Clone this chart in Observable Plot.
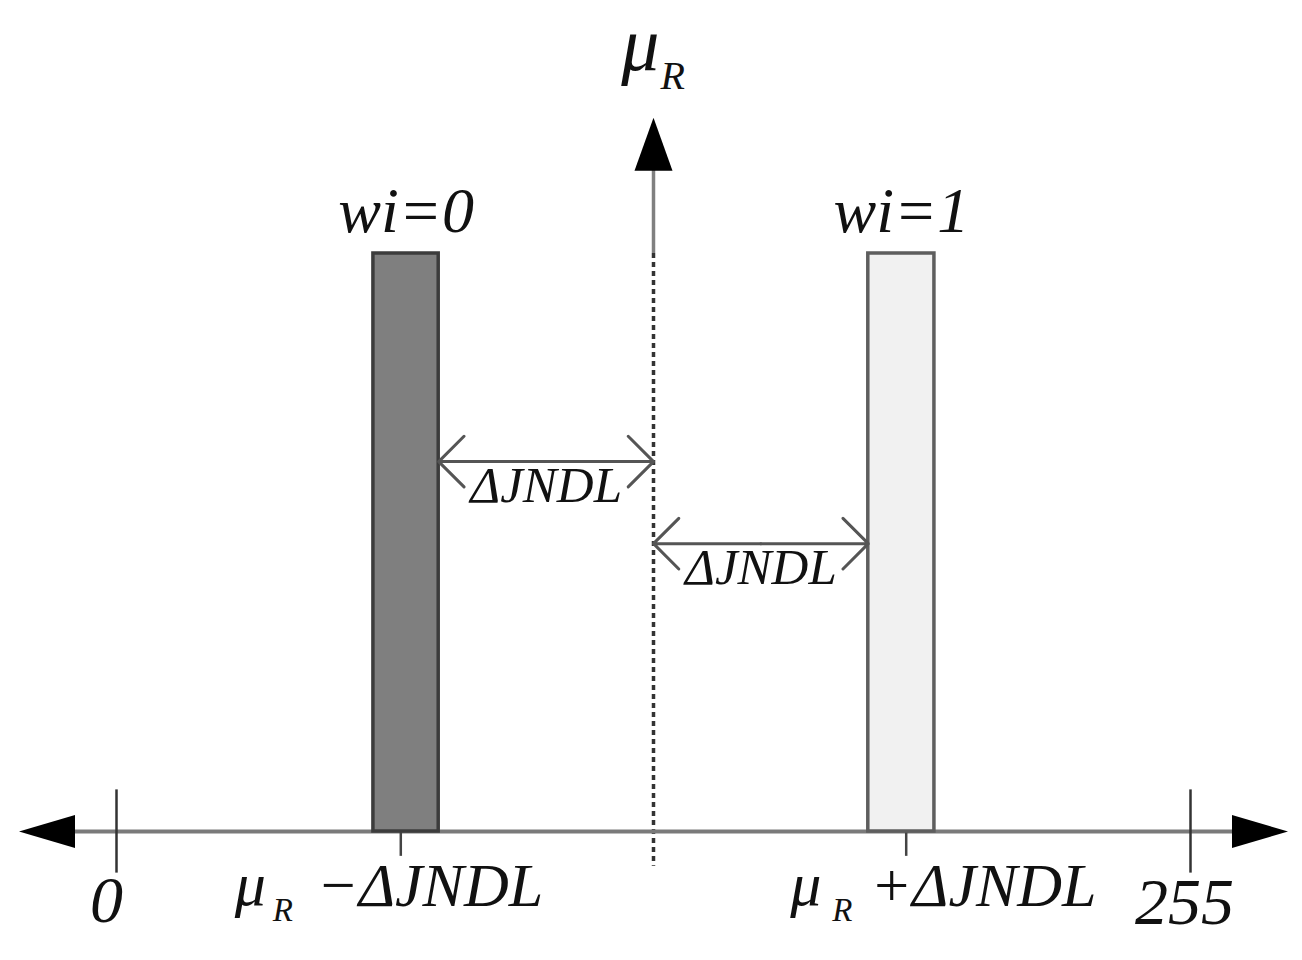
<!DOCTYPE html>
<html>
<head>
<meta charset="utf-8">
<script src="https://cdn.jsdelivr.net/npm/d3@7"></script>
<script src="https://cdn.jsdelivr.net/npm/@observablehq/plot@0.6"></script>
<style>
  body { margin: 0; background: #fff; }
</style>
</head>
<body>
<div id="chart"></div>
<script>
// grey level axis 0..255, reference mean and JND step
const axisTicks = [0, 255]
const tickLabels = ['0', '255']
const mu = 127.5
const jndl = 60
const jndTicks = [mu - jndl, mu + jndl]

// the two output levels (bars), normalised height 1
const weights = [0, 1]
const barLo = [61, 178.5]
const barHi = [76.5, 194.2]
const levelLabels = ['wi=0', 'wi=1']

const levels = weights.map((w, i) => ({ w, lo: barLo[i], hi: barHi[i], label: levelLabels[i] }))

// double arrows between bar edge and mean, at these heights
const arrowY = [0.64, 0.498]
const spans = [
  { a: barHi[0], b: mu, y: arrowY[0] },
  { a: mu, b: barLo[1], y: arrowY[1] },
]
const halfArrows = spans.flatMap(s => {
  const m = (s.a + s.b) / 2
  return [{ x1: m, x2: s.a, y: s.y }, { x1: m, x2: s.b, y: s.y }]
})

const serif = 'Liberation Serif, Times New Roman, serif'
const ink = '#111'
const it = { fontStyle: 'italic', fontFamily: serif, fill: ink, lineAnchor: 'bottom' }

const headH = { draw(ctx) { ctx.moveTo(28, 0); ctx.lineTo(-28, -16.5); ctx.lineTo(-28, 16.5); ctx.closePath() } }
const headV = { draw(ctx) { ctx.moveTo(26.5, 0); ctx.lineTo(-26.5, -19); ctx.lineTo(-26.5, 19); ctx.closePath() } }

const chart = Plot.plot({
  width: 1302,
  height: 960,
  margin: 0,
  x: { axis: null, domain: [0, 255], range: [116, 1190] },
  y: { axis: null, domain: [0, 1], range: [831, 253] },
  marks: [
    // vertical mean axis
    Plot.ruleX([mu], { y1: 1.0, y2: 1.16, stroke: '#808080', strokeWidth: 3.5 }),
    Plot.ruleX([mu], { y1: 1.0, y2: -0.06, stroke: '#333', strokeWidth: 3.5, strokeDasharray: '5,4' }),
    Plot.dot([mu], { x: d => d, y: 1.189, symbol: headV, rotate: -90, fill: '#000', stroke: null }),
    // horizontal grey axis
    Plot.ruleY([0], { x1: -12, x2: 266, stroke: '#7a7a7a', strokeWidth: 4 }),
    Plot.dot([271.5], { x: d => d, y: 0, symbol: headH, fill: '#000', stroke: null }),
    Plot.dot([-16.5], { x: d => d, y: 0, symbol: headH, rotate: 180, fill: '#000', stroke: null }),
    Plot.ruleX(axisTicks, { y1: -0.072, y2: 0.072, stroke: '#333', strokeWidth: 2.5 }),
    Plot.ruleX(jndTicks, { y1: 0, y2: -0.043, stroke: '#444', strokeWidth: 2.5 }),
    // bars
    Plot.rect(levels.filter(d => d.w == 0), { x1: 'lo', x2: 'hi', y1: 0, y2: 1, fill: '#7f7f7f', stroke: '#3c3c3c', strokeWidth: 3.5 }),
    Plot.rect(levels.filter(d => d.w == 1), { x1: 'lo', x2: 'hi', y1: 0, y2: 1, fill: '#f1f1f1', stroke: '#5e5e5e', strokeWidth: 3.5 }),
    // JND arrows
    Plot.arrow(halfArrows, { x1: 'x1', x2: 'x2', y1: 'y', y2: 'y', stroke: '#555', strokeWidth: 3, headLength: 22, headAngle: 90 }),
    Plot.text(spans, { x: d => (d.a + d.b) / 2, y: 'y', text: () => 'ΔJNDL', dy: 40, fontSize: 51, ...it }),
    // level labels
    Plot.text(levels, { x: d => (d.lo + d.hi) / 2, y: 1, text: 'label', dy: -22, fontSize: 64, ...it }),
    // end ticks
    Plot.text([axisTicks[0]], { x: d => d, y: 0, text: () => tickLabels[0], dx: -10, dy: 90, fontSize: 66, ...it }),
    Plot.text([axisTicks[1]], { x: d => d, y: 0, text: () => tickLabels[1], dx: -6, dy: 92, fontSize: 66, ...it }),
    // mu_R at top
    Plot.text([mu], { x: d => d, y: 1.189, text: () => 'μ', dx: 6, dy: -74, textAnchor: 'end', fontSize: 76, ...it }),
    Plot.text([mu], { x: d => d, y: 1.189, text: () => 'R', dx: 7, dy: -55, textAnchor: 'start', fontSize: 40, ...it }),
    // mu_R - JNDL
    Plot.text([jndTicks[0]], { x: d => d, y: 0, text: () => 'μ', dx: -166, dy: 73, textAnchor: 'start', fontSize: 62, ...it }),
    Plot.text([jndTicks[0]], { x: d => d, y: 0, text: () => 'R', dx: -128, dy: 89, textAnchor: 'start', fontSize: 33, ...it }),
    Plot.text([jndTicks[0]], { x: d => d, y: 0, text: () => '−ΔJNDL', dx: -84, dy: 74, textAnchor: 'start', fontSize: 62, ...it }),
    // mu_R + JNDL
    Plot.text([jndTicks[1]], { x: d => d, y: 0, text: () => 'μ', dx: -116, dy: 73, textAnchor: 'start', fontSize: 62, ...it }),
    Plot.text([jndTicks[1]], { x: d => d, y: 0, text: () => 'R', dx: -74, dy: 89, textAnchor: 'start', fontSize: 33, ...it }),
    Plot.text([jndTicks[1]], { x: d => d, y: 0, text: () => '+ΔJNDL', dx: -36, dy: 74, textAnchor: 'start', fontSize: 62, ...it }),
  ],
})
d3.select('#chart').append(() => chart)
</script>
</body>
</html>
